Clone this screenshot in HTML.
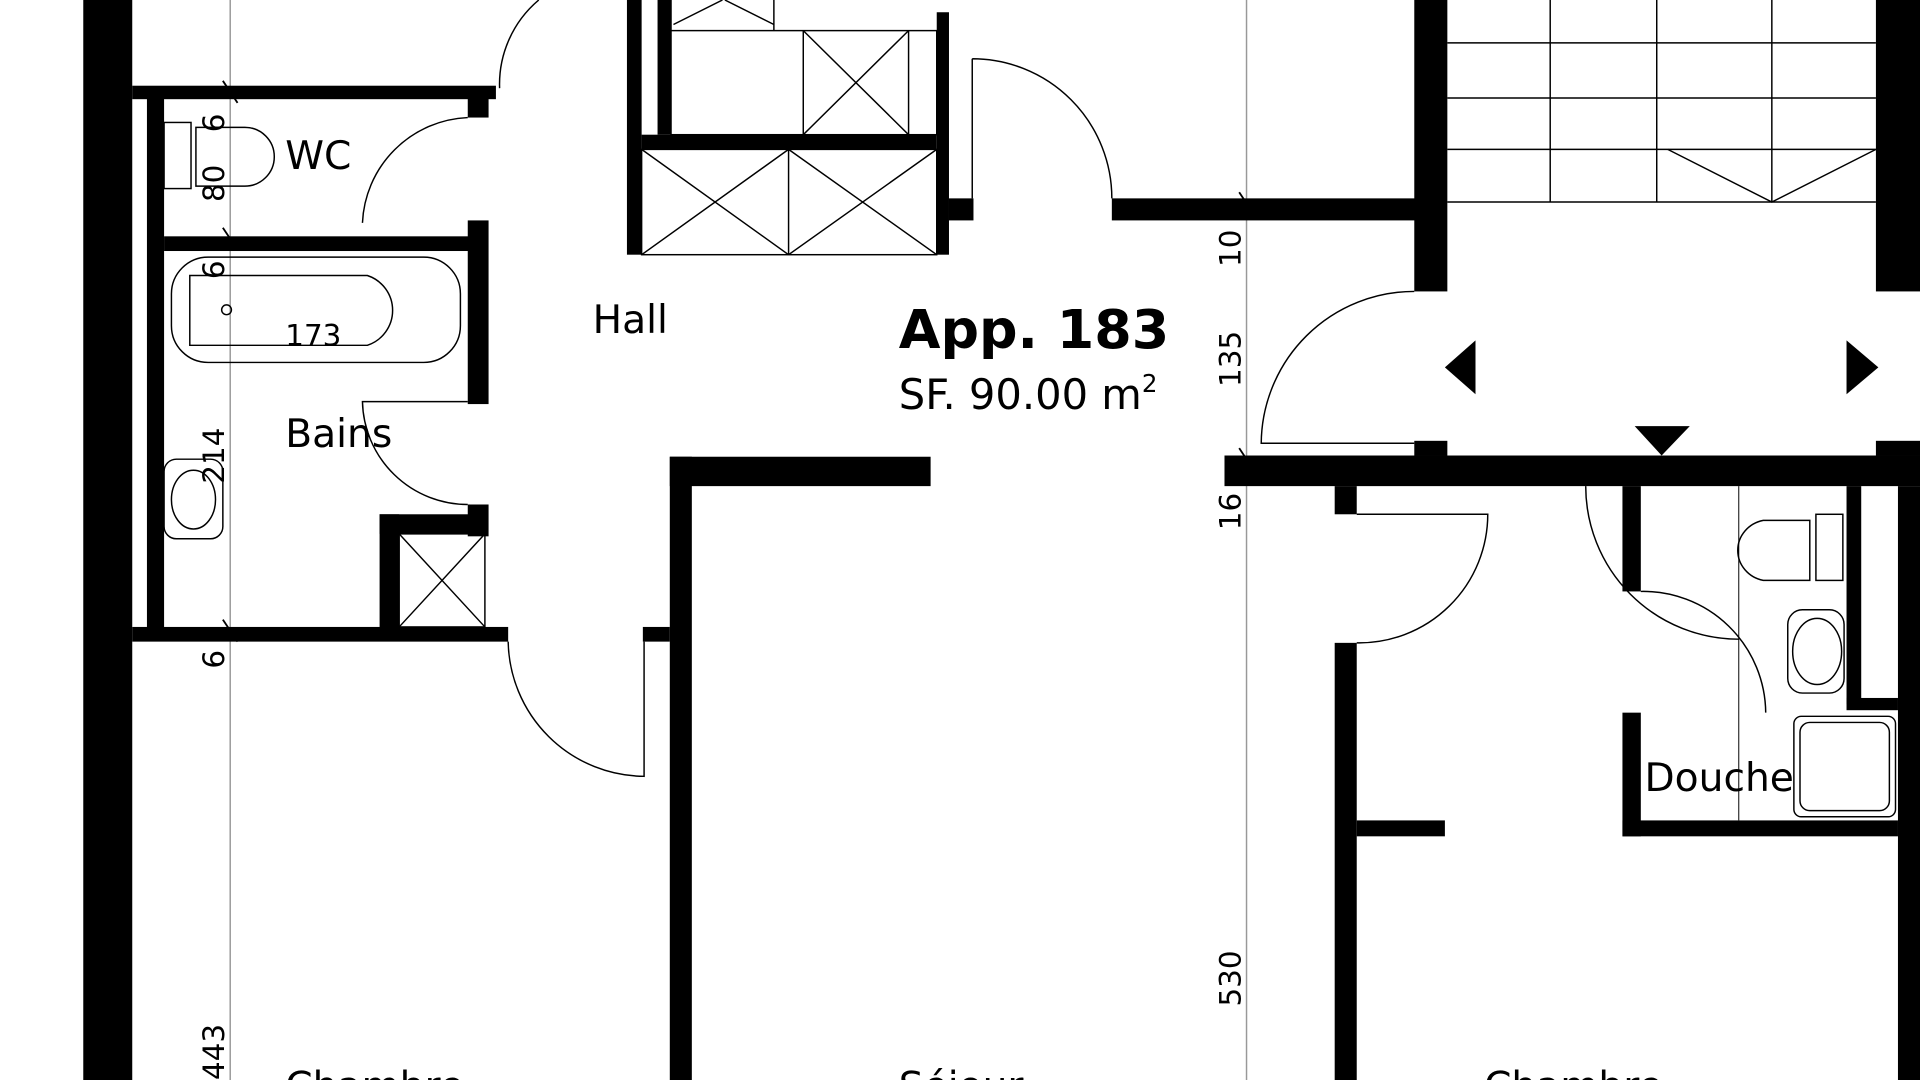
<!DOCTYPE html>
<html><head><meta charset="utf-8"><style>
html,body{margin:0;padding:0;background:#fff;width:1920px;height:1080px;overflow:hidden}
svg{display:block}
text{font-family:"DejaVu Sans","Liberation Sans",sans-serif;fill:#000}
</style></head><body>
<svg width="1920" height="1080" viewBox="0 0 1568 882" preserveAspectRatio="none">
<rect width="1568" height="882" fill="#fff"/>
<!-- dimension lines -->
<g stroke="#999" stroke-width="1.2">
<line x1="188" y1="0" x2="188" y2="882"/>
<line x1="1018" y1="0" x2="1018" y2="882"/>
</g>
<g stroke="#000" stroke-width="1.5">
<line x1="182" y1="66" x2="194" y2="84"/><line x1="182" y1="186" x2="194" y2="204"/>
<line x1="182" y1="506" x2="194" y2="524"/><line x1="1012" y1="157" x2="1024" y2="175"/>
<line x1="1012" y1="366" x2="1024" y2="384"/>
</g>
<!-- walls -->
<g fill="#000">
<rect x="68" y="0" width="40" height="882"/>
<rect x="108" y="70" width="297" height="11"/>
<rect x="382" y="80" width="17" height="16"/>
<rect x="120" y="80" width="14" height="440"/>
<rect x="134" y="193" width="264" height="12"/>
<rect x="382" y="180" width="17" height="150"/>
<rect x="382" y="412" width="17" height="26"/>
<rect x="310" y="420" width="88" height="16"/>
<rect x="310" y="420" width="16" height="95"/>
<rect x="108" y="512" width="307" height="12"/>
<rect x="525" y="512" width="22" height="12"/>
<rect x="547" y="373" width="18" height="509"/>
<rect x="547" y="373" width="213" height="24"/>
<rect x="512" y="0" width="12" height="208"/>
<rect x="537" y="0" width="11" height="110"/>
<rect x="524" y="110" width="241" height="12"/>
<rect x="765" y="10" width="10" height="198"/>
<rect x="775" y="162" width="20" height="18"/>
<rect x="908" y="162" width="252" height="18"/>
<rect x="1155" y="0" width="27" height="238"/>
<rect x="1532" y="0" width="36" height="238"/>
<rect x="1000" y="372" width="568" height="25"/>
<rect x="1155" y="360" width="27" height="12"/>
<rect x="1532" y="360" width="36" height="12"/>
<rect x="1090" y="397" width="18" height="23"/>
<rect x="1090" y="525" width="18" height="357"/>
<rect x="1108" y="670" width="72" height="13"/>
<rect x="1325" y="397" width="15" height="86"/>
<rect x="1325" y="582" width="15" height="101"/>
<rect x="1325" y="670" width="225" height="13"/>
<rect x="1508" y="397" width="12" height="178"/>
<rect x="1508" y="570" width="42" height="10"/>
<rect x="1550" y="397" width="18" height="485"/>
<polygon points="1205,278 1205,322 1180,300"/>
<polygon points="1508,278 1508,322 1534,300"/>
<polygon points="1335,348 1380,348 1357,372"/>
</g>
<!-- shafts with crosses -->
<g fill="none" stroke="#000" stroke-width="1.2">
<rect x="524" y="122" width="241" height="86"/>
<line x1="644" y1="122" x2="644" y2="208"/>
<path d="M524 122 L644 208 M644 122 L524 208 M644 122 L765 208 M765 122 L644 208"/>
<rect x="548" y="25" width="217" height="85"/>
<line x1="656" y1="25" x2="656" y2="110"/><line x1="742" y1="25" x2="742" y2="110"/>
<path d="M656 25 L742 110 M742 25 L656 110"/>
<line x1="548" y1="0" x2="548" y2="25"/><line x1="632" y1="0" x2="632" y2="25"/>
<path d="M550 20 L590 0 M632 20 L592 0"/>
<rect x="326" y="436" width="70" height="76"/>
<path d="M326 436 L396 512 M396 436 L326 512"/>
<!-- stairs -->
<path d="M1182 35 H1532 M1182 80 H1532 M1182 122 H1532 M1182 165 H1532"/>
<path d="M1266 0 V165 M1353 0 V165 M1447 0 V165"/>
<path d="M1362 122 L1447 165 L1532 122"/>
</g>
<!-- doors -->
<g fill="none" stroke="#000" stroke-width="1.2">
<path d="M382 96 A90 90 0 0 0 296 182 H296"/>
<path d="M408 72 A90 90 0 0 1 440 0"/>
<path d="M382 412 A86 86 0 0 1 296 328 H382"/>
<path d="M794 48 V162 M794 48 A114 114 0 0 1 908 162"/>
<path d="M415 524 A112 112 0 0 0 526 634 V524"/>
<path d="M1155 238 A125 125 0 0 0 1030 362 H1155"/>
<path d="M1108 420 H1215 A105 105 0 0 1 1108 525"/>
<path d="M1295 397 A125 125 0 0 0 1420 522"/>
<path d="M1340 483 A100 100 0 0 1 1442 582"/>
<line x1="1420" y1="397" x2="1420" y2="670" stroke-width="0.8"/>
</g>
<!-- fixtures -->
<g fill="none" stroke="#000" stroke-width="1.2">
<rect x="134" y="100" width="22" height="54"/>
<path d="M160 104 H200 A24 24 0 0 1 200 152 H160 Z"/>
<rect x="140" y="210" width="236" height="86" rx="30"/>
<path d="M155 225 H300 A30 30 0 0 1 300 282 H155 Z"/>
<circle cx="185" cy="253" r="4"/>
<rect x="134" y="375" width="48" height="65" rx="10"/>
<ellipse cx="158" cy="408" rx="18" ry="24"/>
<rect x="1483" y="420" width="22" height="54"/>
<path d="M1478 425 H1440 A26 25 0 0 0 1440 474 H1478 Z"/>
<rect x="1460" y="498" width="46" height="68" rx="12"/>
<ellipse cx="1484" cy="532" rx="20" ry="27"/>
<rect x="1465" y="585" width="83" height="82" rx="6"/>
<rect x="1470" y="590" width="73" height="72" rx="8"/>
</g>
<!-- labels -->
<text x="233" y="138" font-size="32">WC</text>
<text x="233" y="365" font-size="32">Bains</text>
<text x="484" y="272" font-size="32">Hall</text>
<text x="233" y="282" font-size="24">173</text>
<text x="734" y="284" font-size="44" font-weight="bold">App. 183</text>
<text x="734" y="334" font-size="34">SF. 90.00 m<tspan font-size="20" dy="-14">2</tspan></text>
<text x="1343" y="646" font-size="32">Douche</text>
<text x="233" y="898" font-size="32">Chambre</text>
<text x="734" y="898" font-size="32">Séjour</text>
<text x="1212" y="898" font-size="32">Chambre</text>
<g font-size="24">
<text transform="translate(183,108) rotate(-90)">6</text>
<text transform="translate(183,165) rotate(-90)">80</text>
<text transform="translate(183,228) rotate(-90)">6</text>
<text transform="translate(183,395) rotate(-90)">214</text>
<text transform="translate(183,546) rotate(-90)">6</text>
<text transform="translate(183,882) rotate(-90)">443</text>
<text transform="translate(1013,218) rotate(-90)">10</text>
<text transform="translate(1013,316) rotate(-90)">135</text>
<text transform="translate(1013,433) rotate(-90)">16</text>
<text transform="translate(1013,822) rotate(-90)">530</text>
</g>
</svg>
</body></html>
